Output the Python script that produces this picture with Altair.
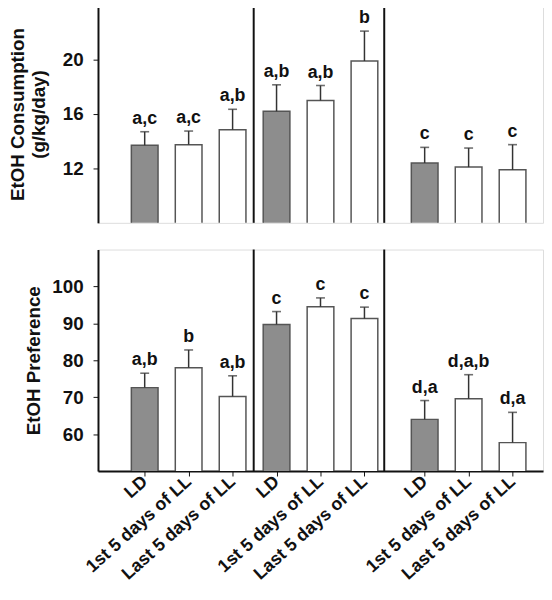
import json
import altair as alt
import pandas as pd

# ---- data ----
condition = ["LD", "1st 5 days of LL", "Last 5 days of LL"] * 3
xpos = [1, 2, 3, 4, 5, 6, 7.37, 8.37, 9.37]
is_ld = [True, False, False] * 3
consumption = [13.7, 13.75, 14.85, 16.2, 17.0, 19.9, 12.4, 12.1, 11.9]
consumption_err = [1.0, 1.0, 1.5, 1.95, 1.1, 2.2, 1.15, 1.4, 1.85]
cons_letters = ["a,c", "a,c", "a,b", "a,b", "a,b", "b", "c", "c", "c"]
preference = [72.6, 78.0, 70.2, 89.7, 94.5, 91.3, 64.0, 69.6, 57.7]
preference_err = [3.9, 4.8, 5.6, 3.5, 2.4, 3.1, 5.1, 6.5, 8.2]
pref_letters = ["a,b", "b", "a,b", "c", "c", "c", "d,a", "d,a,b", "d,a"]
dividers = [3.48, 6.45]

FONT = "Liberation Sans"

df_c = pd.DataFrame({"x": xpos, "cond": condition, "ld": is_ld,
                     "v": consumption, "e": [a + b for a, b in zip(consumption, consumption_err)],
                     "lab": cons_letters})
df_p = pd.DataFrame({"x": xpos, "cond": condition, "ld": is_ld,
                     "v": preference, "e": [a + b for a, b in zip(preference, preference_err)],
                     "lab": pref_letters})
df_div = pd.DataFrame({"x": dividers})

xscale = alt.Scale(domain=[0.05, 9.95], nice=False, zero=False)
label_expr = "%s[indexof(%s, datum.value)]" % (json.dumps(condition), json.dumps(xpos))


def panel(df, ydomain, yvalues, ytitle, title_pad, height, show_x):
    yscale = alt.Scale(domain=ydomain, nice=False, zero=False)
    if show_x:
        xaxis = alt.Axis(values=xpos, labelExpr=label_expr, labelAngle=-42,
                         labelAlign="right", labelBaseline="middle",
                         labelFontSize=18, labelFontWeight="bold", labelFont=FONT,
                         labelColor="#111", tickSize=5, tickColor="#111",
                         labelPadding=3, title=None, grid=False, labelOverlap=False,
                         labelBound=False, domainColor="#111", domainWidth=2)
    else:
        xaxis = None
    base = alt.Chart(df)
    bars = base.mark_bar(size=27, clip=True, stroke="#555", strokeWidth=1.5).encode(
        x=alt.X("x:Q", scale=xscale, axis=xaxis),
        y=alt.Y("v:Q", scale=yscale,
                axis=alt.Axis(values=yvalues, title=ytitle, titleFont=FONT,
                              titleFontSize=19, titleFontWeight="bold", titleColor="#111",
                              titlePadding=title_pad, titleLineHeight=21,
                              labelFont=FONT, labelFontSize=19, labelFontWeight="bold",
                              labelColor="#111", tickSize=5, tickColor="#111",
                              labelPadding=10, grid=False, domainColor="#111",
                              domainWidth=2)),
        fill=alt.condition("datum.ld", alt.value("#8d8d8d"), alt.value("white")),
    )
    err = base.mark_rule(color="#333", strokeWidth=1.5).encode(
        x="x:Q", y="v:Q", y2="e:Q")
    cap = base.mark_tick(orient="horizontal", size=9, thickness=1.6, color="#333").encode(
        x="x:Q", y="e:Q")
    txt = base.mark_text(baseline="bottom", dy=-4, font=FONT, fontSize=18,
                         fontWeight="bold", color="#111").encode(
        x="x:Q", y="e:Q", text="lab:N")
    div = alt.Chart(df_div).mark_rule(color="#111", strokeWidth=2).encode(x="x:Q")
    return alt.layer(bars, err, cap, txt, div).properties(width=450, height=height)


top = panel(df_c, [8, 24], [12, 16, 20], ["EtOH Consumption", "(g/kg/day)"], 14, 220, False)
bottom = panel(df_p, [50, 110], [60, 70, 80, 90, 100], "EtOH Preference", 8, 224, True)

chart = alt.vconcat(top, bottom, spacing=23).properties(
    padding={"left": 0, "top": -8, "right": 0, "bottom": 0}
).configure_view(stroke="#111", strokeWidth=2).configure(background="white")

chart.save("out.html", embed_options={"renderer": "svg", "actions": False})
